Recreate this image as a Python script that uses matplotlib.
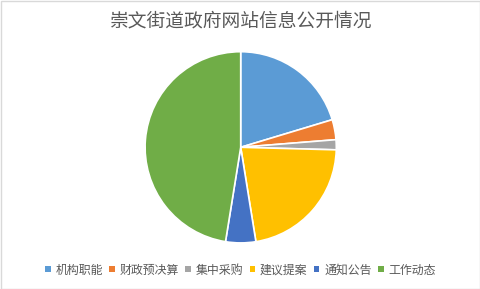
import matplotlib
matplotlib.use('Agg')
import matplotlib.pyplot as plt
from matplotlib.patches import Patch, Rectangle

plt.rcParams['font.family'] = ['Noto Sans CJK SC', 'DejaVu Sans']

# 信息公开条数（按栏目）
categories = ['机构职能', '财政预决算', '集中采购', '建议提案', '通知公告', '工作动态']
counts = [12, 2, 1, 13, 3, 28]
colors = ['#5B9BD5', '#ED7D31', '#A5A5A5', '#FFC000', '#4472C4', '#70AD47']
title = '崇文街道政府网站信息公开情况'

W, H = 481, 289
fig = plt.figure(figsize=(W / 100, H / 100), dpi=100)
fig.patch.set_facecolor('white')

# pie centre / radius in pixels
cx, cy, r = 240.7, 147.3, 95.6
ax = fig.add_axes([(cx - r) / W, (H - cy - r) / H, 2 * r / W, 2 * r / H])
wedges, _ = ax.pie(counts, colors=colors, startangle=90, counterclock=False,
                   radius=1.0, wedgeprops=dict(edgecolor='white', linewidth=1.2))
for w in wedges:
    w.set_clip_on(False)
ax.set_xlim(-1, 1)
ax.set_ylim(-1, 1)
ax.axis('off')

fig.text(0.5, 1 - 21 / H, title, ha='center', va='center',
         fontsize=13.5, color='#595959')

handles = [Patch(facecolor=c, edgecolor='none') for c in colors]
fig.legend(handles, categories, loc='center', bbox_to_anchor=(0.5, 1 - 270 / H),
           ncol=6, frameon=False, fontsize=8.6, labelcolor='#595959',
           handlelength=0.45, handleheight=0.45, handletextpad=0.4,
           columnspacing=0.55)

# chart area border
fig.patches.append(Rectangle((0.5 / W, 0.5 / H), 1 - 1 / W, 1 - 1 / H,
                             transform=fig.transFigure, fill=False,
                             edgecolor='#D9D9D9', linewidth=1.0))

fig.savefig('out.png', dpi=100)
